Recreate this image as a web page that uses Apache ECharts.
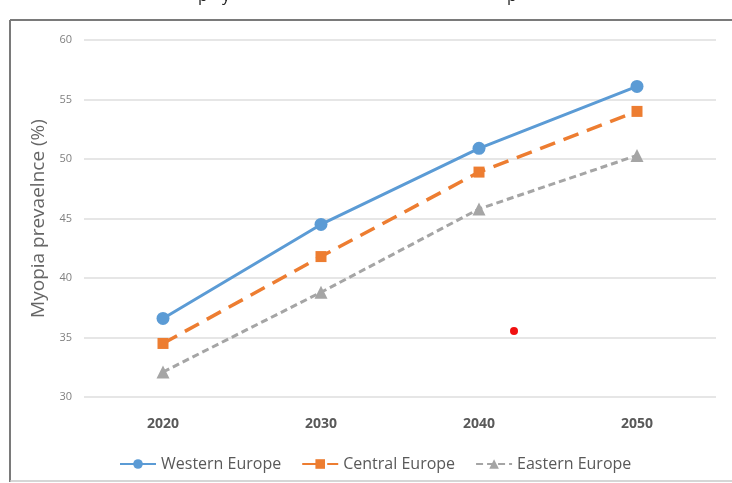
<!DOCTYPE html>
<html><head><meta charset="utf-8">
<script src="https://cdn.jsdelivr.net/npm/echarts@6/dist/echarts.min.js"></script>
<style>html,body{margin:0;padding:0;background:#fff;}#c{width:732px;height:483px;}</style>
</head><body><div id="c"></div>
<script>
const categories = ['2020', '2030', '2040', '2050'];
const westernEurope = [36.6, 44.5, 50.9, 56.1];
const centralEurope = [34.5, 41.8, 48.9, 54.0];
const easternEurope = [32.1, 38.8, 45.8, 50.3];
const seriesNames = ['Western Europe', 'Central Europe', 'Eastern Europe'];

const FONT = '"Open Sans", "Noto Sans", sans-serif';
const chart = echarts.init(document.getElementById('c'), null, {renderer: 'canvas'});
chart.setOption({
  animation: false,
  backgroundColor: '#fff',
  grid: {left: 84, right: 16, top: 40, bottom: 86, containLabel: false},
  legend: {
    left: 114, top: 451, itemWidth: 36, itemHeight: 12, itemGap: 20,
    textStyle: {fontFamily: FONT, fontSize: 16, color: '#595959'},
    data: seriesNames
  },
  xAxis: {
    type: 'category', data: categories, boundaryGap: true,
    axisLine: {show: false}, axisTick: {show: false},
    axisLabel: {fontFamily: FONT, fontSize: 14, fontWeight: 'bold', color: '#595959', margin: 20}
  },
  yAxis: {
    type: 'value', min: 30, max: 60, interval: 5,
    name: 'Myopia prevaelnce (%)', nameLocation: 'middle', nameGap: 27,
    nameTextStyle: {fontFamily: FONT, fontSize: 19, color: '#666'},
    axisLine: {show: false}, axisTick: {show: false},
    axisLabel: {fontFamily: FONT, fontSize: 11, color: '#808080', margin: 12},
    splitLine: {lineStyle: {color: '#dedede', width: 1.5}}
  },
  series: [
    {name: seriesNames[0], type: 'line', data: westernEurope, symbol: 'circle', symbolSize: 13,
     itemStyle: {color: '#5B9BD5'}, lineStyle: {color: '#5B9BD5', width: 3}},
    {name: seriesNames[1], type: 'line', data: centralEurope, symbol: 'rect', symbolSize: 11,
     itemStyle: {color: '#ED7D31'}, lineStyle: {color: '#ED7D31', width: 3.5, type: [16, 9]}},
    {name: seriesNames[2], type: 'line', data: easternEurope, symbol: 'triangle', symbolSize: 13,
     itemStyle: {color: '#A5A5A5'}, lineStyle: {color: '#A5A5A5', width: 3, type: [7, 4]}}
  ],
  graphic: [
    {type: 'line', shape: {x1: 10, y1: 20, x2: 732, y2: 20}, style: {stroke: '#7a7a7a', lineWidth: 2}},
    {type: 'line', shape: {x1: 10, y1: 20, x2: 10, y2: 482}, style: {stroke: '#7a7a7a', lineWidth: 2}},
    {type: 'line', shape: {x1: 10, y1: 481, x2: 732, y2: 481}, style: {stroke: '#c8c8c8', lineWidth: 1.5}},
    {type: 'circle', shape: {cx: 514, cy: 331, r: 4}, style: {fill: '#f01010'}},
    {type: 'text', x: 198, y: -12, style: {text: 'p', fontSize: 16, fontFamily: FONT, fill: '#222'}},
    {type: 'text', x: 222, y: -12, style: {text: 'y', fontSize: 16, fontFamily: FONT, fill: '#222'}},
    {type: 'text', x: 507, y: -12, style: {text: 'p', fontSize: 16, fontFamily: FONT, fill: '#222'}}
  ]
});
</script></body></html>
